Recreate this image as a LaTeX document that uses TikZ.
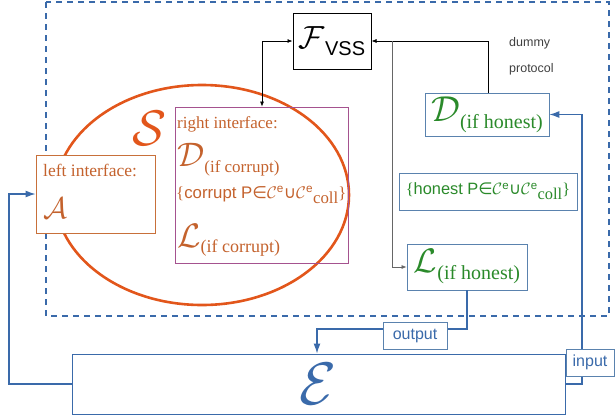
\RequirePackage{fix-cm}
\documentclass[tikz,border=0pt]{standalone}
\usepackage{amsmath}
\usepackage{fontspec}
\setmainfont{Liberation Serif}
\setsansfont{Liberation Sans}
\newfontfamily\djv{DejaVu Sans}
\usetikzlibrary{arrows.meta}
\definecolor{orng}{HTML}{E2561B}
\definecolor{otext}{HTML}{C4622D}
\definecolor{obox}{HTML}{C8703A}
\definecolor{grn}{HTML}{2A8A2A}
\definecolor{blu}{HTML}{3A6AAA}
\definecolor{bbox}{HTML}{5A82AE}
\definecolor{purp}{HTML}{A5528F}
\newcommand{\fsz}[1]{\fontsize{#1}{#1}\selectfont}
\newcommand{\collset}[1]{\{\textsf{#1 P}{\djv ∈}$\mathcal{C}^{\textsf{e}}${\djv ∪}$\mathcal{C}^{\textsf{e}}$\raisebox{-5pt}{coll}\}}
\tikzset{
  gbox/.style={draw=bbox, line width=0.8pt, fill=white, inner sep=0pt, text=grn},
  lblbox/.style={draw=bbox, line width=0.8pt, fill=white, inner sep=0pt, text=blu, font=\sffamily\fsz{16}},
  barr/.style={draw=blu, line width=1.1pt, -{Latex[length=10pt,width=7pt]}},
  karr/.style={draw=black, line width=0.7pt, -{Latex[length=5pt,width=4pt]}},
  kdbl/.style={draw=black, line width=0.7pt, {Latex[length=5pt,width=4pt]}-{Latex[length=5pt,width=4pt]}},
  otxt/.style={anchor=west, inner sep=0pt, text=otext},
}
\begin{document}
\begin{tikzpicture}[x=1pt,y=-1pt]
\path[use as bounding box] (0,0) rectangle (616,416);
% dashed dummy protocol frame
\draw[blu, line width=2pt, dash pattern=on 6pt off 5pt] (46,2) rectangle (609,316);
% ellipse S
\draw[orng, line width=2.6pt] (202,195) ellipse [x radius=147pt, y radius=110pt];
\node[inner sep=0pt, text=orng] (S) at (150,128) {\fsz{50}$\mathcal{S}$};
% right interface box
\node[draw=purp, line width=0.8pt, minimum width=173pt, minimum height=156pt, inner sep=0pt] (rint) at (261.5,185) {};
\node[otxt] (rt) at (177,124) {\fsz{17}right interface:};
\node[otxt] (dc) at (177,160) {\fsz{34}$\mathcal{D}$\raisebox{-6pt}{\fsz{17}(if corrupt)}};
\node[otxt] (cs) at (176,195) {\fsz{16.8}\collset{corrupt}};
\node[otxt] (lc) at (177,240) {\fsz{34}$\mathcal{L}$\raisebox{-5pt}{\fsz{18}(if corrupt)}};
% left interface box
\node[draw=obox, line width=1pt, fill=white, minimum width=119pt, minimum height=78pt, inner sep=0pt] (lint) at (95.5,194) {};
\node[otxt] (lt) at (43,170) {\fsz{17.5}left interface:};
\node[otxt] (la) at (43,208) {\fsz{30}$\mathcal{A}$};
% F_VSS
\node[draw, line width=1pt, minimum width=78pt, minimum height=56pt, inner sep=0pt] (fvss) at (332,41) {\fsz{32}$\mathcal{F}$\raisebox{-7pt}{\fsz{20}\sffamily VSS}};
\node[anchor=west, inner sep=0pt, text=black!75, font=\sffamily\fsz{12.5}] (dm) at (509,43) {dummy};
\node[anchor=west, inner sep=0pt, text=black!75, font=\sffamily\fsz{12.5}] (pr) at (509,69) {protocol};
% honest boxes
\node[gbox, minimum width=124pt, minimum height=43pt] (dh) at (487,114.5) {\fsz{36}$\mathcal{D}$\raisebox{-7pt}{\fsz{20}(if honest)}};
\node[gbox, minimum width=178pt, minimum height=37pt] (hs) at (488,191.5) {\fsz{16.4}\collset{honest}};
\node[gbox, minimum width=120pt, minimum height=46pt] (lh) at (467,267) {\fsz{34}$\mathcal{L}$\raisebox{-7pt}{\fsz{20}(if honest)}};
% environment
\node[draw=blu, line width=1pt, minimum width=493pt, minimum height=60pt, inner sep=0pt, text=blu] (E) at (318.5,384) {\fsz{60}$\mathcal{E}$};
% black connectors
\coordinate (lx) at (262,0);
\coordinate (dx) at (488,0);
\coordinate (jx) at (392,41);
\draw[kdbl] (fvss.west) -| (rint.north -| lx);
\draw[karr] (dh.north -| dx) |- (fvss.east);
\draw[karr, draw=black!60] (jx) |- (lh.west);
% blue connectors
\coordinate (lx2) at (9,0);
\coordinate (ix) at (582,0);
\coordinate (oc) at (317,329);
\draw[barr] (E.west) -- (E.west -| lx2) |- (lint.west);
\draw[barr] (E.east) -- (E.east -| ix) |- (dh.east);
\draw[barr] (lh.south) |- (oc) -- (oc |- E.north);
\node[lblbox, minimum width=64pt, minimum height=27pt] (out) at (415,335.5) {output};
\node[lblbox, minimum width=48pt, minimum height=27pt] (inp) at (590,362.5) {input};
\end{tikzpicture}
\end{document}
